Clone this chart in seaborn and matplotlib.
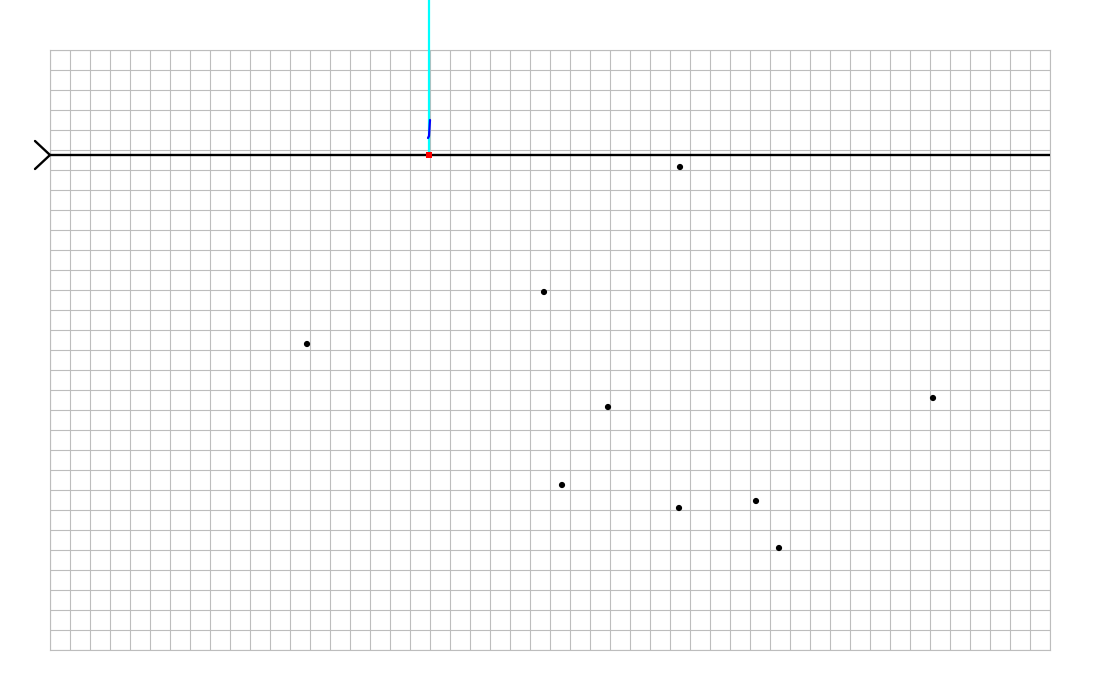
import matplotlib
matplotlib.use("Agg")
import matplotlib.pyplot as plt
import seaborn as sns
import pandas as pd
import numpy as np

# Data (grid units: x to the right, y downward)
point_x = [31.5, 24.7, 12.85, 27.9, 44.15, 25.6, 31.45, 35.3, 36.45]
point_y = [5.85, 12.1, 14.7, 17.85, 17.4, 21.75, 22.9, 22.55, 24.9]
origin_x = [18.95]
origin_y = [5.25]
axis_line_x = [0.0, 50.0]
axis_line_y = [5.25, 5.25]
cyan_x = [18.95, 18.95]
cyan_y = [5.25, -2.5]
blue_x = [19.0, 18.95, 18.9]
blue_y = [3.5, 4.3, 4.4]
arrow_x = [-0.75, 0.0, -0.75]
arrow_y = [4.55, 5.25, 5.95]

sns.set_style("white")
fig = plt.figure(figsize=(11, 7), dpi=100)
ax = fig.add_axes([50/1100, 50/700, 1000/1100, 600/700])
ax.set_xlim(0, 50)
ax.set_ylim(30, 0)
ax.set_xticks(np.arange(0, 51, 1))
ax.set_yticks(np.arange(0, 31, 1))
ax.grid(True, color="#bdbdbd", linewidth=0.8)
ax.tick_params(length=0, labelbottom=False, labelleft=False)
for s in ax.spines.values():
    s.set_visible(True)
    s.set_color("#bdbdbd")
    s.set_linewidth(0.8)
ax.set_axisbelow(True)

ax.plot(axis_line_x, axis_line_y, color="black", lw=1.7, zorder=3)
ax.plot(arrow_x, arrow_y, color="black", lw=1.7, clip_on=False, zorder=3)
ax.plot(cyan_x, cyan_y, color="cyan", lw=1.6, clip_on=False, zorder=4)
ax.plot(blue_x, blue_y, color="blue", lw=1.6, zorder=5)

df = pd.DataFrame({"x": point_x, "y": point_y})
sns.scatterplot(data=df, x="x", y="y", ax=ax, color="black", s=20,
                edgecolor="none", zorder=5)
sns.scatterplot(x=origin_x, y=origin_y, ax=ax, color="red", s=18,
                marker="s", edgecolor="none", zorder=6)
ax.set_xlabel("")
ax.set_ylabel("")

fig.savefig("out.png", dpi=100)
